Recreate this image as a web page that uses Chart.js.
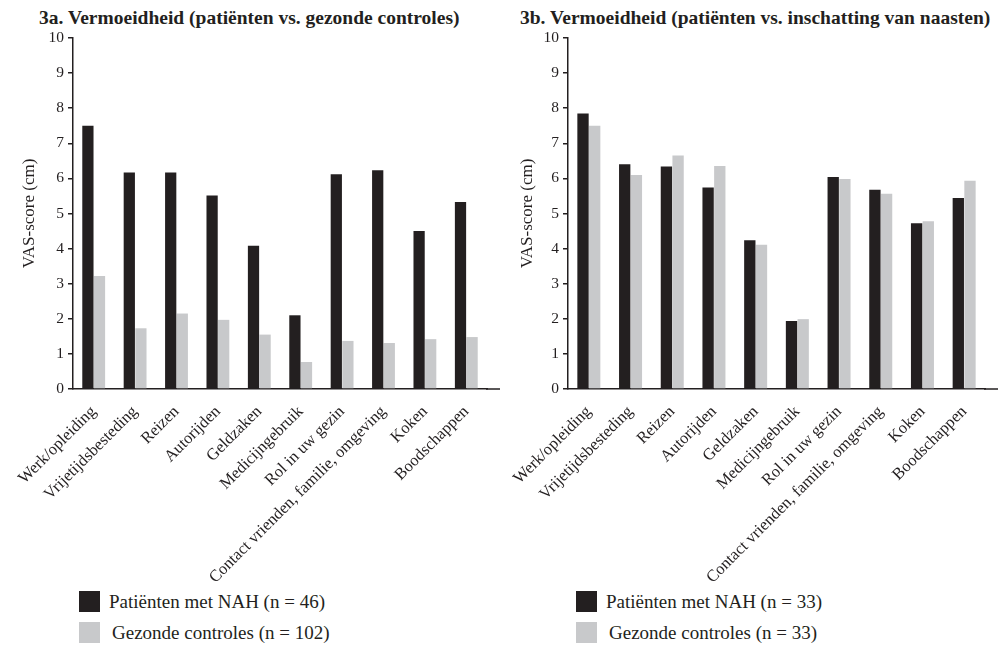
<!DOCTYPE html>
<html lang="nl">
<head>
<meta charset="utf-8">
<title>Vermoeidheid VAS-scores</title>
<style>
  body { margin: 0; background: #fff; width: 1001px; height: 646px; position: relative; overflow: hidden; font-family: 'Liberation Serif', serif; color: #231f20; }
  canvas { position: absolute; top: 0; }
  #chartA { left: 0; }
  #chartB { left: 500px; }
  .title { position: absolute; top: 6px; font-size: 19.5px; font-weight: bold; line-height: 24px; white-space: nowrap; }
  #titleA { left: 39px; }
  #titleB { left: 520px; }
  .lg { position: absolute; font-size: 19px; line-height: 21px; white-space: nowrap; }
  .lg .box { position: absolute; left: 0; top: 0; width: 21px; height: 21px; }
  .lg .txt { position: absolute; top: 0; }
</style>
</head>
<body>
<div class="title" id="titleA">3a. Vermoeidheid (patiënten vs. gezonde controles)</div>
<div class="title" id="titleB">3b. Vermoeidheid (patiënten vs. inschatting van naasten)</div>
<canvas id="chartA" width="500" height="585"></canvas>
<canvas id="chartB" width="501" height="585"></canvas>
<div id="legendA"></div>
<div id="legendB"></div>
<script src="https://cdn.jsdelivr.net/npm/chart.js@4/dist/chart.umd.min.js"></script>
<script>
// activiteiten
const categories = ['Werk/opleiding', 'Vrijetijdsbesteding', 'Reizen', 'Autorijden', 'Geldzaken',
  'Medicijngebruik', 'Rol in uw gezin', 'Contact vrienden, familie, omgeving', 'Koken', 'Boodschappen'];

// 3a: patiënten vs. gezonde controles
const patientsA = [7.5, 6.17, 6.17, 5.51, 4.08, 2.1, 6.12, 6.23, 4.5, 5.33];
const controlsA = [3.22, 1.73, 2.15, 1.97, 1.55, 0.77, 1.37, 1.31, 1.42, 1.48];
const labelsA = ['Patiënten met NAH (n = 46)', 'Gezonde controles (n = 102)'];

// 3b: patiënten vs. inschatting van naasten
const patientsB = [7.85, 6.4, 6.34, 5.74, 4.24, 1.94, 6.04, 5.68, 4.72, 5.44];
const relativesB = [7.5, 6.1, 6.65, 6.35, 4.11, 1.99, 5.98, 5.56, 4.78, 5.93];
const labelsB = ['Patiënten met NAH (n = 33)', 'Gezonde controles (n = 33)'];

const yTicks = [0, 1, 2, 3, 4, 5, 6, 7, 8, 9, 10];

const DARK = '#231f20';
const GREY = '#c8c9cb';
const FONT = 'Liberation Serif';

// x-as loopt iets door voorbij de laatste groep
const axisTail = {
  id: 'axisTail',
  afterDraw(chart, args, opts) {
    const { ctx, chartArea } = chart;
    ctx.save();
    ctx.strokeStyle = DARK;
    ctx.lineWidth = 1.5;
    ctx.beginPath();
    ctx.moveTo(chartArea.right - 1, chartArea.bottom);
    ctx.lineTo(chartArea.right + opts.length, chartArea.bottom);
    ctx.stroke();
    ctx.restore();
  }
};

function makeChart(id, seriesA, seriesB, names, areaLeft, areaRight, yTitlePad) {
  const canvas = document.getElementById(id);
  const h = canvas.height;
  return new Chart(canvas, {
    type: 'bar',
    data: {
      labels: categories,
      datasets: [
        { label: names[0], data: seriesA, backgroundColor: DARK, categoryPercentage: 0.56, barPercentage: 0.97 },
        { label: names[1], data: seriesB, backgroundColor: GREY, categoryPercentage: 0.56, barPercentage: 0.97 }
      ]
    },
    options: {
      responsive: false,
      animation: false,
      layout: { padding: { left: 0, right: canvas.width - areaRight, top: 38, bottom: 0 } },
      plugins: {
        legend: { display: false },
        tooltip: { enabled: false },
        axisTail: { length: 13 }
      },
      scales: {
        x: {
          grid: { display: false },
          border: { display: true, color: DARK, width: 1.5 },
          ticks: {
            color: DARK,
            font: { family: FONT, size: 16.5 },
            minRotation: 45,
            maxRotation: 45,
            autoSkip: false,
            padding: 5
          },
          afterFit(scale) { scale.height = h - 389; }
        },
        y: {
          min: 0,
          max: 10,
          afterBuildTicks(scale) { scale.ticks = yTicks.map(v => ({ value: v })); },
          grid: { drawOnChartArea: false, drawTicks: true, tickLength: 5, color: DARK, lineWidth: 1.5 },
          border: { display: true, color: DARK, width: 1.5 },
          ticks: { color: DARK, font: { family: FONT, size: 15.5 }, padding: 4 },
          title: {
            display: true,
            text: 'VAS-score (cm)',
            color: DARK,
            font: { family: FONT, size: 17 },
            padding: { top: yTitlePad, bottom: 0 }
          },
          afterFit(scale) { scale.width = areaLeft; }
        }
      }
    },
    plugins: [axisTail]
  });
}

makeChart('chartA', patientsA, controlsA, labelsA, 73, 487, 19);
makeChart('chartB', patientsB, relativesB, labelsB, 68, 485, 17);

function buildLegend(id, left, names) {
  const el = document.getElementById(id);
  const colors = [DARK, GREY];
  const tops = [591, 622];
  const textOffsets = [30, 33];
  names.forEach((name, i) => {
    const row = document.createElement('div');
    row.className = 'lg';
    row.style.left = left + 'px';
    row.style.top = tops[i] + 'px';
    const box = document.createElement('div');
    box.className = 'box';
    box.style.background = colors[i];
    const txt = document.createElement('span');
    txt.className = 'txt';
    txt.style.left = textOffsets[i] + 'px';
    txt.textContent = name;
    row.appendChild(box);
    row.appendChild(txt);
    el.appendChild(row);
  });
}
buildLegend('legendA', 79, labelsA);
buildLegend('legendB', 576, labelsB);
</script>
</body>
</html>
